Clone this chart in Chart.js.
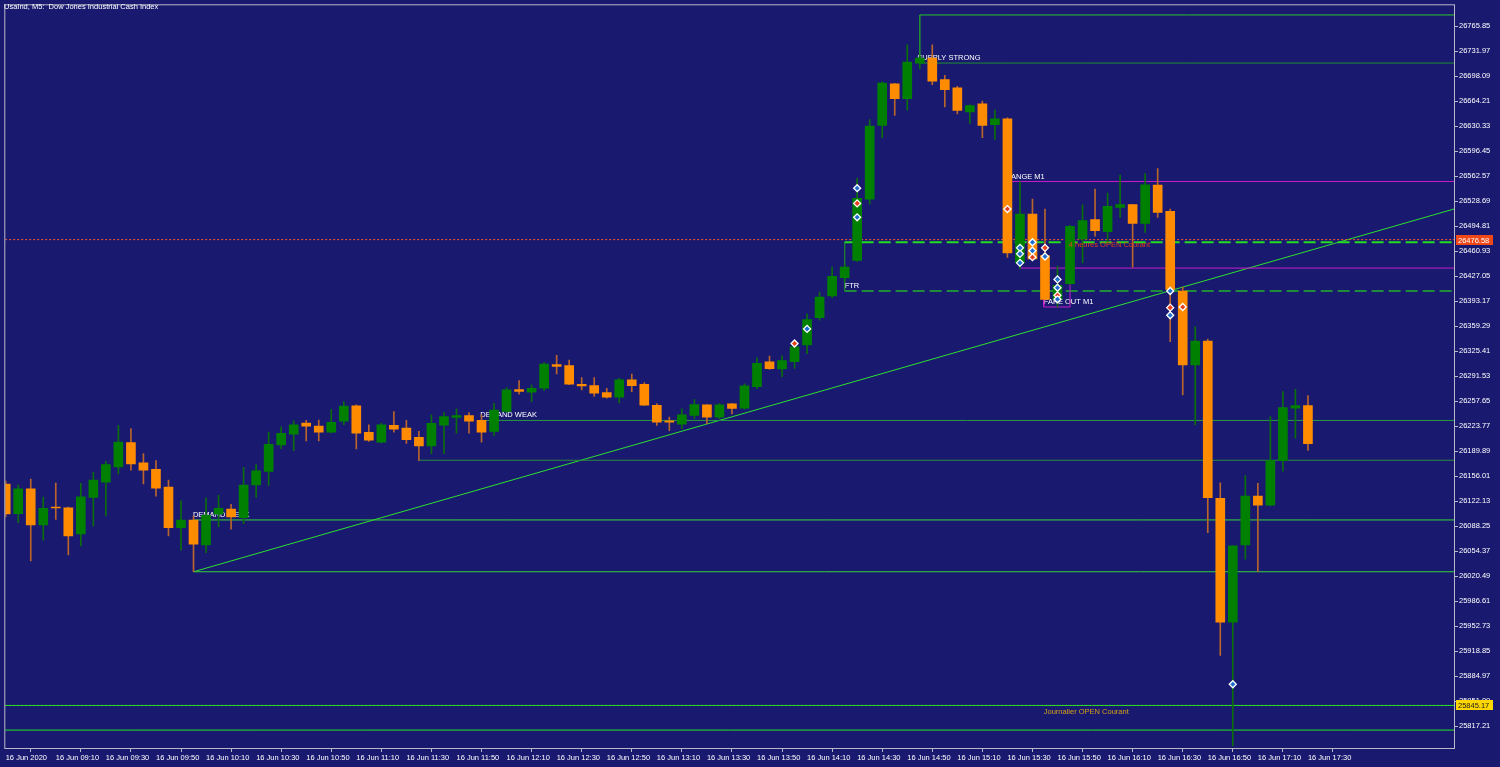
<!DOCTYPE html>
<html>
<head>
<meta charset="utf-8">
<script src="https://cdn.jsdelivr.net/npm/chart.js@4.4.1/dist/chart.umd.min.js"></script>
<style>
  html, body { margin: 0; padding: 0; background: #191970; }
</style>
</head>
<body>
<canvas id="chart" width="1500" height="767"></canvas>
<script>
// UsaInd M5, 16 Jun 2020 08:50 -> 17:30 (105 bars)
const opens = [26145.1, 26105.1, 26138.8, 26089.8, 26114.1, 26113.2, 26077.7, 26127.2, 26147.8, 26168.5,
  26201.4, 26173.9, 26165.4, 26141.1, 26086.2, 26096.6, 26062.8, 26104.3, 26111.4, 26099.7,
  26144.2, 26162.3, 26198.2, 26213.0, 26227.9, 26223.8, 26215.7, 26230.6, 26251.3, 26215.3,
  26202.2, 26224.8, 26221.1, 26208.6, 26196.8, 26225.2, 26235.5, 26238.2, 26231.5, 26216.7,
  26243.6, 26273.3, 26269.7, 26275.1, 26307.1, 26305.7, 26280.5, 26278.7, 26269.3, 26262.9,
  26286.4, 26280.5, 26252.1, 26231.1, 26226.5, 26238.2, 26252.7, 26236.0, 26254.0, 26248.1,
  26277.4, 26311.1, 26301.3, 26311.1, 26333.7, 26370.9, 26400.2, 26424.9, 26448.4, 26531.5,
  26631.3, 26687.6, 26667.8, 26715.9, 26722.7, 26693.4, 26682.2, 26649.8, 26660.6, 26632.3,
  26640.4, 26445.1, 26511.2, 26455.1, 26395.7, 26416.8, 26477.5, 26503.7, 26487.5, 26520.3,
  26524.0, 26498.7, 26550.4, 26514.9, 26406.9, 26306.7, 26339.1, 26125.8, 25958.0, 26062.8,
  26128.9, 26116.8, 26177.1, 26248.1, 26251.7];
const highs = [26149.2, 26143.8, 26151.9, 26127.6, 26146.5, 26114.1, 26146.1, 26161.3, 26176.2, 26224.8,
  26220.3, 26186.6, 26177.1, 26150.5, 26122.6, 26102.0, 26126.7, 26129.9, 26117.7, 26168.1,
  26171.7, 26215.7, 26223.0, 26231.1, 26231.5, 26231.9, 26246.7, 26257.1, 26252.7, 26225.7,
  26227.5, 26243.6, 26231.5, 26216.7, 26239.2, 26242.3, 26247.3, 26242.3, 26239.2, 26254.8,
  26276.0, 26285.5, 26279.7, 26309.8, 26319.6, 26313.4, 26289.5, 26289.5, 26275.1, 26288.6,
  26294.5, 26282.8, 26254.4, 26236.0, 26247.3, 26259.8, 26253.1, 26254.4, 26254.4, 26281.0,
  26316.5, 26318.8, 26319.2, 26339.0, 26375.9, 26405.6, 26439.3, 26443.4, 26559.8, 26639.4,
  26690.3, 26688.3, 26740.6, 26725.4, 26740.6, 26699.3, 26684.5, 26659.3, 26664.3, 26652.1,
  26641.7, 26555.0, 26531.5, 26518.0, 26440.7, 26496.0, 26523.9, 26545.0, 26539.6, 26563.9,
  26524.4, 26566.2, 26572.9, 26518.0, 26412.3, 26358.3, 26341.7, 26146.9, 26061.5, 26156.9,
  26146.1, 26236.9, 26270.6, 26273.7, 26265.2];
const lows = [26100.6, 26092.9, 26041.2, 26069.2, 26097.5, 26049.3, 26061.5, 26088.1, 26102.0, 26159.0,
  26164.0, 26145.5, 26128.9, 26075.0, 26055.7, 26026.4, 26052.4, 26087.1, 26084.0, 26091.6,
  26127.6, 26143.4, 26193.3, 26190.6, 26203.6, 26203.6, 26214.6, 26225.7, 26192.8, 26203.2,
  26201.1, 26215.7, 26200.5, 26177.1, 26186.6, 26186.6, 26214.4, 26214.4, 26202.2, 26210.9,
  26242.3, 26267.0, 26257.1, 26272.0, 26294.5, 26280.1, 26272.9, 26263.9, 26261.6, 26255.4,
  26270.6, 26251.7, 26224.8, 26217.6, 26220.3, 26233.8, 26227.0, 26233.8, 26240.5, 26246.7,
  26274.7, 26300.8, 26290.9, 26302.1, 26321.9, 26367.4, 26397.9, 26420.0, 26447.0, 26524.7,
  26614.7, 26644.8, 26652.1, 26707.8, 26686.7, 26656.6, 26647.1, 26634.0, 26614.7, 26612.4,
  26452.4, 26437.0, 26448.4, 26394.8, 26385.3, 26415.7, 26445.1, 26481.1, 26473.0, 26506.8,
  26439.3, 26486.5, 26506.8, 26338.1, 26266.2, 26225.7, 26079.4, 25913.0, 25790.2, 26043.5,
  26026.4, 26116.1, 26162.7, 26207.6, 26191.0];
const closes = [26104.7, 26138.8, 26089.8, 26112.4, 26112.8, 26075.0, 26128.0, 26150.5, 26171.7, 26202.2,
  26172.5, 26164.0, 26139.7, 26086.2, 26096.6, 26063.8, 26102.9, 26112.4, 26100.6, 26143.8,
  26163.1, 26199.1, 26214.0, 26225.7, 26223.8, 26215.7, 26228.8, 26250.8, 26214.4, 26204.9,
  26225.7, 26219.8, 26205.5, 26196.8, 26227.5, 26236.9, 26238.2, 26230.6, 26215.7, 26245.4,
  26272.9, 26271.0, 26275.1, 26308.0, 26304.8, 26280.5, 26278.3, 26268.3, 26262.9, 26286.4,
  26278.7, 26252.1, 26229.2, 26229.2, 26239.2, 26253.1, 26236.0, 26252.7, 26247.7, 26278.3,
  26308.8, 26301.7, 26312.5, 26331.4, 26368.2, 26398.8, 26426.8, 26439.3, 26532.4, 26630.5,
  26688.9, 26667.8, 26717.3, 26722.7, 26691.2, 26679.9, 26651.6, 26658.3, 26631.3, 26640.4,
  26458.6, 26511.2, 26450.5, 26395.7, 26414.6, 26494.6, 26502.3, 26488.8, 26521.6, 26524.0,
  26498.7, 26550.9, 26513.5, 26409.2, 26306.7, 26339.1, 26126.7, 25958.0, 26061.5, 26128.9,
  26116.8, 26177.1, 26249.0, 26251.7, 26200.1];

// axis labels
const timeLabels = ['16 Jun 2020', '16 Jun 09:10', '16 Jun 09:30', '16 Jun 09:50', '16 Jun 10:10', '16 Jun 10:30',
  '16 Jun 10:50', '16 Jun 11:10', '16 Jun 11:30', '16 Jun 11:50', '16 Jun 12:10', '16 Jun 12:30', '16 Jun 12:50',
  '16 Jun 13:10', '16 Jun 13:30', '16 Jun 13:50', '16 Jun 14:10', '16 Jun 14:30', '16 Jun 14:50', '16 Jun 15:10',
  '16 Jun 15:30', '16 Jun 15:50', '16 Jun 16:10', '16 Jun 16:30', '16 Jun 16:50', '16 Jun 17:10', '16 Jun 17:30'];
const priceTicks = [26765.85, 26731.97, 26698.09, 26664.21, 26630.33, 26596.45, 26562.57, 26528.69, 26494.81,
  26460.93, 26427.05, 26393.17, 26359.29, 26325.41, 26291.53, 26257.65, 26223.77, 26189.89, 26156.01,
  26122.13, 26088.25, 26054.37, 26020.49, 25986.61, 25952.73, 25918.85, 25884.97, 25851.09, 25817.21];

// indicator levels (prices) and the bar where each one starts
const supplyZone = [26781.1, 26715.9];
const supplyFrom = 73;
const rangeM1 = [26555.4, 26438.0];
const rangeFrom = [79.85, 81];
const fakeOutBox = [26438.0, 26385.3];
const fakeOutBars = [82.9, 85];
const ftrZone = [26473.0, 26406.9];
const ftrFrom = 67;
const demandHigh = [26231.5, 26177.5];
const demandHighFrom = [37.9, 33];
const demandLow = [26096.6, 26026.4];
const demandLowFrom = 15;
const openH4 = 26476.58;
const openDaily = 25845.17;
const lowLevel = 25811.8;
const trendLine = [[15, 26026.4], [116, 26519.7]];

const markBlue = [[68, 26546.3], [68, 26506.8], [64, 26355.6], [81, 26465.4], [81, 26457.3], [81, 26445.1],
  [82, 26473.0], [82, 26461.6], [83, 26453.7], [84, 26422.7], [84, 26411.4], [84, 26395.7],
  [93, 26406.9], [93, 26374.1], [98, 25873.9]];
const markRed = [[68, 26525.7], [63, 26335.8], [80, 26518.0], [82, 26452.8], [83, 26465.4], [84, 26401.1],
  [93, 26384.4], [94, 26385.3]];

const zoneText = ['SUPPLY STRONG', 'RANGE M1', 'DEMAND WEAK', 'DEMAND WEAK', 'FTR', 'FAKE OUT M1'];
const zoneTextBar = [72.8, 79.85, 14.95, 37.9, 67, 82.9];
const zoneTextPrice = [26715.9, 26555.4, 26096.6, 26231.5, 26406.9, 26385.3];

const X_MIN = -0.032, X_MAX = 115.665;
const FONT = '7.5px "Liberation Sans", Arial, sans-serif';
const BG = '#191970';

const bull = closes.map((c, i) => c >= opens[i]);

function hline(price, from, color, width, dash) {
  return {
    type: 'line',
    data: [{ x: from, y: price }, { x: X_MAX + 1, y: price }],
    borderColor: color, borderWidth: width || 1, borderDash: dash || [],
    pointRadius: 0, fill: false, order: 10, clip: 0
  };
}
function path(points, color, width) {
  return {
    type: 'line',
    data: points.map(p => ({ x: p[0], y: p[1] })),
    borderColor: color, borderWidth: width || 1,
    pointRadius: 0, fill: false, order: 10, clip: 0, tension: 0
  };
}

const datasets = [
  // levels, drawn behind the candles
  hline(openH4, -1, '#ff5a2a', 1, [2, 2]),
  hline(supplyZone[0], supplyFrom, '#2bc52b'),
  hline(supplyZone[1], supplyFrom, '#1f8f2f'),
  path([[supplyFrom, supplyZone[0]], [supplyFrom, supplyZone[1]]], '#1f8f2f'),
  hline(rangeM1[0], rangeFrom[0], '#c81ec8'),
  hline(rangeM1[1], rangeFrom[1], '#c81ec8'),
  path([[fakeOutBars[0], fakeOutBox[0]], [fakeOutBars[0], fakeOutBox[1]], [fakeOutBars[1], fakeOutBox[1]],
    [fakeOutBars[1], fakeOutBox[0]]], '#c81ec8'),
  hline(ftrZone[0], ftrFrom, '#22dd22', 2, [12, 5]),
  hline(ftrZone[1], ftrFrom, '#1e8c3a', 2, [12, 5]),
  path([[ftrFrom, ftrZone[0]], [ftrFrom, ftrZone[1]]], '#1e7a34'),
  hline(demandHigh[0], demandHighFrom[0], '#2a9a3e'),
  hline(demandHigh[1], demandHighFrom[1], '#2a8a3e'),
  hline(demandLow[0], demandLowFrom, '#36d436'),
  hline(demandLow[1], demandLowFrom, '#36d436'),
  path(trendLine, '#2ee02e'),
  hline(openDaily, -1, '#22dd22'),
  hline(openDaily, -1, '#ffd700', 1, [2, 2]),
  hline(lowLevel, -1, '#22e622'),
  // wicks
  {
    type: 'bar',
    data: highs.map((h, i) => ({ x: i, y: [lows[i], h] })),
    backgroundColor: bull.map(b => b ? '#0a6e0a' : '#b8642a'),
    barThickness: 1, grouped: false, order: 5, clip: 0
  },
  // bodies
  {
    type: 'bar',
    data: opens.map((o, i) => ({ x: i, y: [o, closes[i]] })),
    backgroundColor: bull.map(b => b ? '#008000' : '#ff8c00'),
    barThickness: 9, minBarLength: 1, grouped: false, order: 4, clip: 0
  },
  // signal markers
  {
    type: 'scatter',
    data: markBlue.map(p => ({ x: p[0], y: p[1] })),
    pointStyle: 'rectRot', pointRadius: 3.5, pointBorderWidth: 1.3,
    pointBackgroundColor: '#1f6fd0', pointBorderColor: '#ffffff', order: 1, clip: 0
  },
  {
    type: 'scatter',
    data: markRed.map(p => ({ x: p[0], y: p[1] })),
    pointStyle: 'rectRot', pointRadius: 3.5, pointBorderWidth: 1.3,
    pointBackgroundColor: '#e8401a', pointBorderColor: '#ffffff', order: 1, clip: 0
  }
];

function textAt(chart, str, bar, price, color, baseline, dy) {
  const { ctx, scales } = chart;
  ctx.save();
  ctx.font = FONT;
  ctx.fillStyle = color;
  ctx.textAlign = 'left';
  ctx.textBaseline = baseline;
  ctx.fillText(str, scales.x.getPixelForValue(bar), scales.y.getPixelForValue(price) + dy);
  ctx.restore();
}

function priceBox(chart, price, fill, textColor) {
  const { ctx, scales } = chart;
  const py = Math.round(scales.y.getPixelForValue(price));
  const left = chart.chartArea.right + 2;
  ctx.save();
  ctx.fillStyle = fill;
  ctx.fillRect(left, py - 5, 37, 10);
  ctx.font = FONT;
  ctx.fillStyle = textColor;
  ctx.textBaseline = 'middle';
  ctx.textAlign = 'left';
  ctx.fillText(price.toFixed(2), left + 2, py + 0.5);
  ctx.restore();
}

const mt4Overlay = {
  id: 'mt4Overlay',
  beforeDraw(chart) {
    const { ctx, width, height } = chart;
    ctx.save();
    ctx.fillStyle = BG;
    ctx.fillRect(0, 0, width, height);
    ctx.restore();
  },
  beforeDatasetsDraw(chart) {
    zoneText.forEach((t, i) => {
      const dy = i === 1 ? -2 : -3;
      textAt(chart, t, zoneTextBar[i], zoneTextPrice[i], '#ffffff', 'alphabetic', dy);
    });
  },
  afterDatasetsDraw(chart) {
    textAt(chart, '4 heures OPEN Courant', 84.9, openH4, '#e0401c', 'top', 2);
    textAt(chart, 'Journalier OPEN Courant', 82.9, openDaily, '#d4a017', 'top', 3);
  },
  afterDraw(chart) {
    const { ctx, chartArea: a } = chart;
    ctx.save();
    ctx.strokeStyle = '#b8b8c8';
    ctx.lineWidth = 1;
    ctx.strokeRect(a.left - 0.5, a.top - 0.5, a.right - a.left + 1, a.bottom - a.top + 1);
    ctx.font = FONT;
    ctx.fillStyle = '#ffffff';
    ctx.textBaseline = 'top';
    ctx.fillText('UsaInd, M5:  Dow Jones Industrial Cash Index', 4, 3);
    ctx.restore();
    priceBox(chart, openH4, '#f04818', '#ffffff');
    priceBox(chart, openDaily, '#ffd700', '#202020');
  }
};

new Chart(document.getElementById('chart'), {
  type: 'bar',
  data: { datasets },
  options: {
    responsive: false,
    animation: false,
    devicePixelRatio: 1,
    layout: { padding: { left: 2, top: 2, right: 0, bottom: 0 } },
    plugins: { legend: { display: false }, tooltip: { enabled: false } },
    scales: {
      x: {
        type: 'linear',
        min: X_MIN, max: X_MAX,
        bounds: 'data',
        offset: false,
        afterBuildTicks: s => { s.ticks = timeLabels.map((t, k) => ({ value: k * 4 })); },
        afterFit: s => { s.height = 19; s.paddingLeft = 0; s.paddingRight = 0; },
        ticks: {
          autoSkip: false, maxRotation: 0, align: 'start', padding: 1,
          color: '#ffffff', font: { family: '"Liberation Sans", Arial, sans-serif', size: 7.5 },
          callback: (v, i) => timeLabels[i]
        },
        grid: { drawOnChartArea: false, drawTicks: true, tickLength: 4, color: '#b8b8c8' },
        border: { color: '#b8b8c8' }
      },
      y: {
        type: 'linear',
        position: 'right',
        min: 25787.52, max: 26794.19,
        bounds: 'data',
        afterBuildTicks: s => { s.ticks = priceTicks.map(v => ({ value: v })); },
        afterFit: s => { s.width = 46; s.paddingTop = 0; s.paddingBottom = 0; },
        ticks: {
          padding: 1, color: '#ffffff',
          font: { family: '"Liberation Sans", Arial, sans-serif', size: 7.5 },
          callback: v => v.toFixed(2)
        },
        grid: { drawOnChartArea: false, drawTicks: true, tickLength: 4, color: '#b8b8c8' },
        border: { color: '#b8b8c8' }
      }
    }
  },
  plugins: [mt4Overlay]
});
</script>
</body>
</html>
